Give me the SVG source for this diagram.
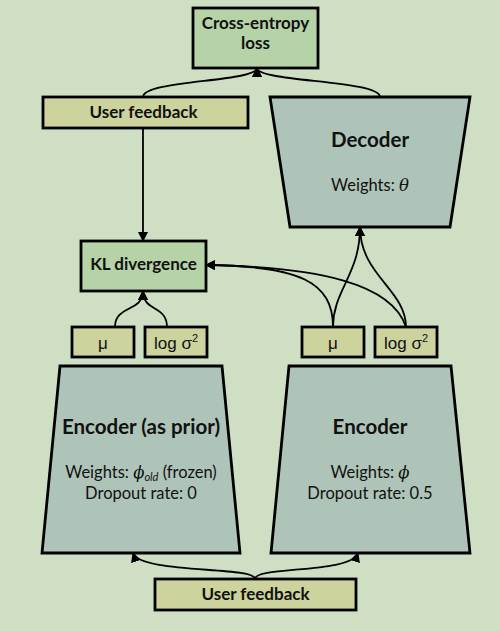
<svg xmlns="http://www.w3.org/2000/svg" width="500" height="631" viewBox="0 0 500 631">
<defs>
<marker id="arr" markerWidth="10" markerHeight="10" viewBox="0 0 10 10" refX="9" refY="5" orient="auto" markerUnits="userSpaceOnUse">
<path d="M0,0 L10,5 L0,10 z" fill="#000"/>
</marker>
<style>
.bg{fill:#CEDFC4}
.green{fill:#B5D3A7;stroke:#000;stroke-width:2.8}
.khaki{fill:#CDD39D;stroke:#000;stroke-width:2.8}
.trap{fill:#AEC4B8;stroke:#000;stroke-width:2.8}
.lbl{font-family:Lato,"Open Sans",sans-serif;font-weight:bold;font-size:17px;fill:#111;text-anchor:middle}
.ttl{font-family:Lato,"Open Sans",sans-serif;font-weight:bold;font-size:20.5px;fill:#111;text-anchor:middle}
.reg{font-family:Lato,"Open Sans",sans-serif;font-size:16.5px;fill:#111;text-anchor:middle}
.ar{font-family:"Liberation Sans",Arial,sans-serif;font-size:17px;fill:#111;text-anchor:middle}
.conn path{fill:none;stroke:#000;stroke-width:1.8}
.mk{marker-end:url(#arr)}
</style>
</defs>
<rect class="bg" x="0" y="0" width="500" height="631"/>

<g id="connectors" class="conn">
<path d="M143,97 C143,80 257,82 257,68" class="mk"/>
<path d="M380,97 C380,80 257,82 257,68" class="mk"/>
<path d="M143,128 L143,241" class="mk"/>
<path d="M115,327 C115,305 143,312 143,291" class="mk"/>
<path d="M167,327 C167,305 143,312 143,291" class="mk"/>
<path d="M333,327 C333,290 360,275 360,227" class="mk"/>
<path d="M406,327 C406,290 360,275 360,227" class="mk"/>
<path d="M333,327 C333,282 300,266 206,265" class="mk"/>
<path d="M406,327 C392,284 320,267 206,265" class="mk"/>
<path d="M255,579 C255,566 140,574 133,553" class="mk"/>
<path d="M255,579 C255,566 351,574 358,553" class="mk"/>
</g>

<g id="cross-entropy">
<rect class="green" x="193" y="8" width="125" height="60"/>
<text class="lbl" x="255.5" y="29">Cross-entropy</text>
<text class="lbl" x="255.5" y="49">loss</text>
</g>

<g id="user-feedback-top">
<rect class="khaki" x="43" y="97" width="205" height="31"/>
<text class="lbl" x="143.5" y="118">User feedback</text>
</g>

<g id="decoder">
<polygon class="trap" points="270,97 470,97 450,227 290,227"/>
<text class="ttl" x="370" y="147">Decoder</text>
<text class="reg" x="370" y="191">Weights: <tspan font-family="'DejaVu Serif',serif" font-style="italic">θ</tspan></text>
</g>

<g id="kl-divergence">
<rect class="green" x="81" y="241" width="125" height="50"/>
<text class="lbl" x="143.5" y="270">KL divergence</text>
</g>

<g id="mu-left">
<rect class="khaki" x="72" y="327" width="62" height="30"/>
<text class="ar" x="103" y="349">μ</text>
</g>
<g id="logvar-left">
<rect class="khaki" x="145" y="327" width="62" height="30"/>
<text class="ar" x="176" y="349">log σ<tspan font-size="11" dy="-7">2</tspan></text>
</g>
<g id="mu-right">
<rect class="khaki" x="302" y="327" width="62" height="30"/>
<text class="ar" x="333" y="349">μ</text>
</g>
<g id="logvar-right">
<rect class="khaki" x="375" y="327" width="62" height="30"/>
<text class="ar" x="406" y="349">log σ<tspan font-size="11" dy="-7">2</tspan></text>
</g>

<g id="encoder-prior">
<polygon class="trap" points="60,366 222,366 240,553 42,553"/>
<text class="ttl" x="141" y="434">Encoder (as prior)</text>
<text class="reg" x="141" y="478">Weights: <tspan font-family="'DejaVu Serif',serif" font-style="italic">ϕ</tspan><tspan font-style="italic" font-size="11" dy="3">old</tspan><tspan dy="-3"> (frozen)</tspan></text>
<text class="reg" x="141" y="499">Dropout rate: 0</text>
</g>

<g id="encoder">
<polygon class="trap" points="289,366 451,366 470,553 271,553"/>
<text class="ttl" x="370" y="434">Encoder</text>
<text class="reg" x="370" y="478">Weights: <tspan font-family="'DejaVu Serif',serif" font-style="italic">ϕ</tspan></text>
<text class="reg" x="370" y="499">Dropout rate: 0.5</text>
</g>

<g id="user-feedback-bottom">
<rect class="khaki" x="155" y="579" width="201" height="31"/>
<text class="lbl" x="255.5" y="600">User feedback</text>
</g>
</svg>
